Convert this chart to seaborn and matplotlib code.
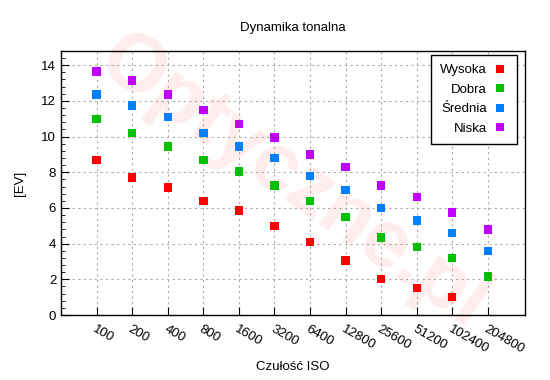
import matplotlib
matplotlib.use("Agg")
import matplotlib.pyplot as plt
from matplotlib.ticker import MultipleLocator
import numpy as np
import pandas as pd
import seaborn as sns

iso = ["100", "200", "400", "800", "1600", "3200", "6400", "12800",
       "25600", "51200", "102400", "204800"]
wysoka = [8.7, 7.7, 7.15, 6.4, 5.85, 5.0, 4.1, 3.05, 2.0, 1.5, 1.0, np.nan]
dobra = [11.0, 10.2, 9.45, 8.7, 8.05, 7.25, 6.4, 5.5, 4.35, 3.8, 3.2, 2.15]
srednia = [12.35, 11.75, 11.1, 10.2, 9.45, 8.8, 7.8, 7.0, 6.0, 5.3, 4.6, 3.6]
niska = [13.65, 13.15, 12.35, 11.5, 10.7, 9.95, 9.0, 8.3, 7.25, 6.6, 5.75, 4.8]

series = {"Wysoka": wysoka, "Dobra": dobra, "Średnia": srednia, "Niska": niska}
colors = {"Wysoka": "#ff0000", "Dobra": "#00c000", "Średnia": "#0080ff", "Niska": "#c000ff"}

df = pd.DataFrame([
    {"ISO": iso[i], "EV": v, "jakość": name}
    for name, vals in series.items() for i, v in enumerate(vals)
]).dropna()

sns.set_style("white")
plt.rcParams["font.family"] = ["Liberation Sans", "DejaVu Sans"]
plt.rcParams["text.color"] = "black"
plt.rcParams["axes.labelcolor"] = "black"
plt.rcParams["xtick.color"] = "black"
plt.rcParams["ytick.color"] = "black"

fig = plt.figure(figsize=(5.5, 3.8), dpi=100)
ax = fig.add_axes([0.111, 0.171, 0.844, 0.695])

# znak wodny
ax.text(0.5, 0.5, "Optyczne.pl", transform=ax.transAxes, fontsize=58,
        fontweight="bold", color="#ff0000", alpha=0.08, rotation=-35,
        ha="center", va="center", zorder=0)

sns.stripplot(data=df, x="ISO", y="EV", hue="jakość", order=iso,
              palette=colors, jitter=False, dodge=False, marker="s", size=6,
              linewidth=0, ax=ax, zorder=3)

ax.set_xlim(-1, 12.05)
ax.set_ylim(0, 14.8)
ax.yaxis.set_major_locator(MultipleLocator(2))
ax.yaxis.set_minor_locator(MultipleLocator(0.4))
ax.grid(True, which="major", color="#aaaaaa", linestyle=(0, (2, 3)), linewidth=0.8)
ax.tick_params(axis="both", which="both", direction="in", labelsize=9.5,
               left=True, bottom=True, top=False, right=False)
ax.tick_params(axis="y", which="major", length=6)
ax.tick_params(axis="y", which="minor", length=3)
ax.tick_params(axis="x", which="major", length=6, pad=6)
for lbl in ax.get_xticklabels():
    lbl.set_rotation(-30)
    lbl.set_ha("left")
    lbl.set_va("top")
    lbl.set_rotation_mode("anchor")
for s in ax.spines.values():
    s.set_color("black")
    s.set_linewidth(1)

ax.set_title("Dynamika tonalna", fontsize=9.5, pad=14)
ax.set_xlabel("Czułość ISO", fontsize=9.5)
ax.set_ylabel("[EV]", fontsize=9.5)
ax.xaxis.set_label_coords(0.5, -0.197)
ax.xaxis.label.set_va("center")
ax.yaxis.set_label_coords(-0.088, 0.5)
ax.yaxis.label.set_va("center")

leg = ax.legend(loc="upper right", markerfirst=False, frameon=True, fontsize=9.5,
                handletextpad=0.4, handlelength=1.2, borderpad=0.7,
                labelspacing=0.55, borderaxespad=0,
                bbox_to_anchor=(0.983, 0.985))
frame = leg.get_frame()
frame.set_edgecolor("black")
frame.set_linewidth(1)
frame.set_boxstyle("square", pad=0)
frame.set_alpha(1)
for t in leg.get_texts():
    t.set_ha("right")

fig.savefig("out.png", dpi=100)
